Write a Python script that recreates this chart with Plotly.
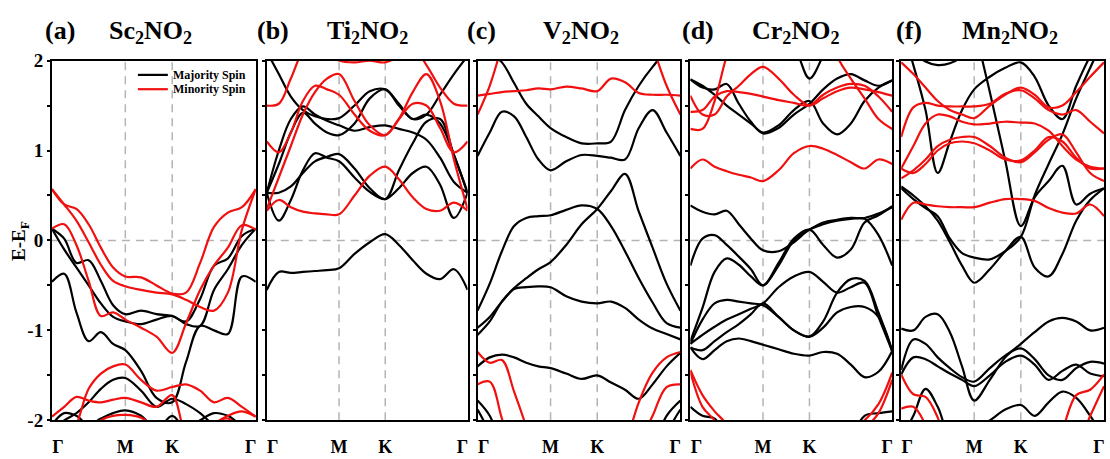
import plotly.graph_objects as go

# ---------------- data ----------------
K_PATH = [0.0, 0.06, 0.12, 0.18, 0.24, 0.30, 0.36, 0.437, 0.513, 0.59,
          0.658, 0.727, 0.795, 0.863, 0.932, 1.0]
K_SPECIAL = [0.36, 0.59]                 # M and K (dashed guides)
K_LABEL_POS = [0.03, 0.36, 0.59, 0.975]  # Γ labels sit just inside the frame
K_LABELS = ["Γ", "M", "K", "Γ"]
Y_TICKS = [-2, -1.5, -1, -0.5, 0, 0.5, 1, 1.5, 2]
Y_LABELS = ["-2", "", "-1", "", "0", "", "1", "", "2"]

PANEL_TAGS = ["(a)", "(b)", "(c)", "(d)", "(f)"]
PANEL_NAMES = ["Sc<sub>2</sub>NO<sub>2</sub>", "Ti<sub>2</sub>NO<sub>2</sub>",
               "V<sub>2</sub>NO<sub>2</sub>", "Cr<sub>2</sub>NO<sub>2</sub>",
               "Mn<sub>2</sub>NO<sub>2</sub>"]
SERIES_NAMES = ["Majority Spin", "Minority Spin"]

# (a) Sc2NO2
SC_UP_1 = [0.13, 0.02, -0.25, -0.22, -0.45, -0.72, -0.82, -0.78, -0.82, -0.84, -0.90, -0.65, -0.28, -0.20, 0.05, 0.13]
SC_UP_2 = [0.13, -0.10, -0.30, -0.50, -0.70, -0.85, -0.90, -0.93, -0.88, -0.84, -0.93, -0.95, -0.55, -0.32, -0.05, 0.13]
SC_UP_3 = [-0.46, -0.37, -0.80, -1.12, -1.02, -1.15, -1.22, -1.45, -1.75, -1.80, -1.35, -0.95, -1.00, -1.04, -0.40, -0.46]
SC_UP_4 = [-2.10, -2.00, -1.92, -1.80, -1.65, -1.55, -1.53, -1.67, -1.85, -1.76, -1.82, -1.92, -2.05, -2.10, -2.10, -2.10]
SC_UP_5 = [-2.05, -1.92, -1.95, -2.05, -1.98, -1.92, -1.89, -1.95, -2.10, -1.95, -2.10, -2.00, -1.92, -1.95, -2.05, -2.05]
SC_DN_1 = [0.57, 0.40, 0.35, 0.18, -0.08, -0.30, -0.40, -0.41, -0.50, -0.59, -0.58, -0.25, 0.15, 0.31, 0.37, 0.57]
SC_DN_2 = [0.57, 0.40, 0.22, -0.02, -0.27, -0.45, -0.51, -0.55, -0.58, -0.60, -0.66, -0.74, -0.78, -0.58, 0.12, 0.57]
SC_DN_3 = [0.13, 0.18, -0.05, -0.45, -0.84, -0.80, -0.88, -0.97, -1.07, -1.25, -0.92, -0.55, -0.28, -0.08, 0.17, 0.12]
SC_DN_4 = [-2.40, -2.30, -2.05, -1.65, -1.48, -1.40, -1.38, -1.55, -1.67, -1.63, -1.60, -1.67, -1.80, -1.75, -1.85, -1.96]
SC_DN_5 = [-1.96, -1.85, -1.74, -1.78, -1.80, -1.77, -1.75, -1.80, -1.85, -1.72, -2.15, -2.25, -2.05, -1.95, -1.90, -1.96]
SC_DN_6 = [-2.50, -2.40, -2.30, -2.15, -2.00, -1.95, -1.94, -1.97, -2.10, -2.30, -2.40, -2.30, -2.05, -1.98, -2.10, -2.30]

# (b) Ti2NO2
TI_UP_1 = [-0.55, -0.35, -0.36, -0.35, -0.34, -0.33, -0.31, -0.15, -0.02, 0.07, -0.05, -0.22, -0.37, -0.43, -0.32, -0.55]
TI_UP_2 = [0.53, 0.22, 0.45, 0.78, 0.97, 0.92, 0.88, 0.70, 0.54, 0.46, 0.58, 0.75, 0.82, 0.62, 0.25, 0.53]
TI_UP_3 = [0.53, 0.53, 0.60, 0.75, 0.88, 0.93, 0.96, 0.80, 0.58, 0.46, 0.78, 1.08, 1.32, 1.35, 0.95, 0.53]
TI_UP_4 = [0.53, 1.00, 1.35, 1.49, 1.40, 1.33, 1.28, 1.22, 1.26, 1.28, 1.24, 1.20, 1.12, 0.92, 0.65, 0.53]
TI_UP_5 = [0.53, 0.85, 1.20, 1.42, 1.30, 1.20, 1.17, 1.30, 1.58, 1.68, 1.50, 1.35, 1.40, 1.62, 1.85, 2.05]
TI_UP_6 = [2.10, 1.85, 1.60, 1.45, 1.38, 1.35, 1.36, 1.50, 1.66, 1.68, 1.52, 1.35, 1.40, 1.30, 0.95, 0.53]
TI_DN_1 = [0.33, 0.45, 0.37, 0.32, 0.30, 0.29, 0.29, 0.50, 0.72, 0.82, 0.68, 0.48, 0.35, 0.33, 0.42, 0.33]
TI_DN_2 = [1.10, 0.98, 1.20, 1.55, 1.72, 1.68, 1.62, 1.40, 1.22, 1.17, 1.35, 1.52, 1.50, 1.25, 0.98, 1.10]
TI_DN_3 = [1.50, 1.52, 1.80, 2.10, 2.20, 2.10, 2.00, 1.98, 2.00, 1.98, 2.05, 2.15, 1.95, 1.70, 1.52, 1.50]
TI_DN_4 = [0.35, 0.70, 1.05, 1.40, 1.65, 1.80, 1.85, 1.55, 1.28, 1.17, 1.35, 1.65, 1.85, 1.55, 0.90, 0.35]

# (c) V2NO2
V_UP_1 = [2.15, 2.08, 1.98, 1.75, 1.52, 1.38, 1.25, 1.15, 1.08, 1.08, 1.10, 1.45, 1.72, 1.93, 2.10, 2.15]
V_UP_2 = [0.94, 1.20, 1.43, 1.38, 1.15, 0.90, 0.78, 0.88, 0.95, 0.94, 0.92, 0.90, 1.25, 1.45, 1.20, 0.94]
V_UP_3 = [-0.78, -0.48, -0.12, 0.16, 0.25, 0.27, 0.28, 0.34, 0.39, 0.35, 0.16, -0.12, -0.42, -0.69, -0.92, -0.97]
V_UP_4 = [-0.97, -0.85, -0.68, -0.53, -0.42, -0.32, -0.24, -0.05, 0.18, 0.35, 0.55, 0.74, 0.32, -0.08, -0.48, -0.78]
V_UP_5 = [-1.05, -0.90, -0.68, -0.54, -0.52, -0.51, -0.52, -0.62, -0.68, -0.70, -0.68, -0.75, -0.88, -0.98, -1.04, -1.10]
V_UP_6 = [-1.40, -1.30, -1.27, -1.30, -1.36, -1.40, -1.42, -1.48, -1.54, -1.50, -1.58, -1.66, -1.76, -1.60, -1.40, -1.25]
V_UP_7 = [-1.78, -1.95, -2.30, -2.60, -2.80, -2.90, -3.00, -3.00, -3.00, -3.00, -2.90, -2.80, -2.60, -2.30, -1.95, -1.78]
V_UP_8 = [-1.88, -2.15, -2.60, -2.90, -3.00, -3.00, -3.00, -3.00, -3.00, -3.00, -3.00, -3.00, -2.90, -2.60, -2.15, -1.88]
V_DN_1 = [1.61, 1.63, 1.65, 1.66, 1.67, 1.69, 1.68, 1.71, 1.69, 1.66, 1.80, 1.76, 1.64, 1.62, 1.62, 1.61]
V_DN_2 = [1.40, 1.72, 2.15, 2.50, 2.70, 2.80, 2.80, 2.80, 2.80, 2.80, 2.80, 2.70, 2.50, 2.15, 1.72, 1.40]
V_DN_3 = [-1.24, -1.36, -1.33, -1.68, -2.07, -2.50, -2.80, -3.00, -3.00, -3.00, -2.80, -2.30, -1.80, -1.47, -1.30, -1.24]
V_DN_4 = [-1.60, -1.57, -1.98, -2.40, -2.80, -3.00, -3.00, -3.00, -3.00, -3.00, -3.00, -2.80, -2.30, -1.95, -1.63, -1.60]

# (d) Cr2NO2
CR_UP_1 = [1.79, 1.72, 1.62, 1.50, 1.40, 1.30, 1.20, 1.28, 1.45, 1.55, 1.30, 1.18, 1.30, 1.55, 1.70, 1.78]
CR_UP_2 = [1.79, 1.70, 1.68, 1.74, 1.52, 1.32, 1.19, 1.25, 1.40, 1.52, 1.68, 1.80, 1.85, 1.78, 1.72, 1.78]
CR_UP_3 = [2.50, 2.50, 2.50, 2.50, 2.50, 2.40, 2.30, 2.25, 2.15, 1.80, 2.05, 2.30, 2.50, 2.50, 2.50, 2.50]
CR_UP_4 = [0.39, 0.32, 0.29, 0.33, 0.18, 0.02, -0.11, -0.12, -0.02, 0.12, 0.18, 0.22, 0.24, 0.24, 0.06, -0.28]
CR_UP_5 = [-0.28, 0.02, 0.06, -0.05, -0.18, -0.32, -0.50, -0.25, 0.02, 0.12, -0.05, -0.19, -0.10, 0.20, 0.28, 0.38]
CR_UP_6 = [-1.12, -0.75, -0.35, -0.20, -0.27, -0.40, -0.50, -0.28, 0.00, 0.12, 0.20, 0.23, 0.25, 0.25, 0.30, 0.37]
CR_UP_7 = [-1.15, -0.88, -0.70, -0.66, -0.68, -0.70, -0.72, -0.85, -1.00, -1.07, -0.97, -0.80, -0.74, -0.74, -0.85, -1.23]
CR_UP_8 = [-1.15, -1.05, -0.96, -0.88, -0.82, -0.76, -0.70, -0.52, -0.40, -0.35, -0.46, -0.58, -0.52, -0.47, -0.85, -1.23]
CR_UP_9 = [-1.19, -1.22, -1.12, -1.02, -0.93, -0.82, -0.70, -0.85, -1.00, -1.07, -0.90, -0.58, -0.43, -0.45, -0.80, -1.23]
CR_UP_10 = [-1.19, -1.32, -1.22, -1.12, -1.09, -1.12, -1.16, -1.21, -1.26, -1.28, -1.24, -1.26, -1.38, -1.52, -1.46, -1.23]
CR_UP_11 = [-1.85, -1.95, -1.98, -2.20, -2.50, -2.80, -3.00, -3.00, -3.00, -3.00, -2.80, -2.50, -2.20, -1.95, -1.92, -1.90]
CR_DN_1 = [0.80, 0.90, 0.82, 0.77, 0.73, 0.70, 0.66, 0.78, 0.97, 1.05, 1.02, 0.95, 0.87, 0.80, 0.90, 0.85]
CR_DN_2 = [1.43, 1.45, 1.60, 1.66, 1.65, 1.63, 1.60, 1.56, 1.53, 1.50, 1.62, 1.70, 1.74, 1.72, 1.60, 1.43]
CR_DN_3 = [1.61, 1.40, 1.40, 1.60, 1.72, 1.85, 1.93, 1.80, 1.62, 1.50, 1.58, 1.66, 1.70, 1.68, 1.65, 1.61]
CR_DN_4 = [1.24, 1.24, 1.55, 2.05, 2.40, 2.60, 2.70, 2.70, 2.70, 2.70, 2.60, 2.05, 1.80, 1.58, 1.35, 1.24]
CR_DN_5 = [-1.44, -1.72, -1.90, -2.05, -2.40, -2.80, -3.00, -3.00, -3.00, -3.00, -2.80, -2.40, -2.10, -2.00, -1.82, -1.47]
CR_DN_6 = [-1.46, -1.85, -2.00, -2.20, -2.60, -3.00, -3.00, -3.00, -3.00, -3.00, -3.00, -2.60, -2.25, -2.10, -1.92, -1.55]

# (f) Mn2NO2
MN_UP_1 = [2.60, 2.10, 1.99, 1.95, 1.97, 2.05, 2.40, 2.60, 2.60, 2.60, 2.60, 2.60, 2.60, 2.60, 2.60, 2.60]
MN_UP_2 = [2.40, 1.95, 1.45, 0.75, 1.10, 1.45, 1.68, 1.82, 1.92, 1.98, 1.82, 1.50, 1.35, 1.72, 2.05, 2.30]
MN_UP_3 = [4.50, 4.30, 4.10, 3.90, 3.70, 3.47, 2.43, 1.65, 0.89, 0.16, 0.48, 0.66, 0.83, 0.40, 0.52, 0.58]
MN_UP_4 = [0.58, 0.46, 0.36, 0.27, 0.02, -0.14, -0.19, -0.21, -0.12, 0.04, 0.50, 0.85, 1.18, 1.58, 1.92, 2.25]
MN_UP_5 = [0.60, 0.50, 0.38, 0.22, -0.02, -0.28, -0.47, -0.32, -0.12, 0.04, -0.30, -0.40, -0.15, 0.22, 0.45, 0.58]
MN_UP_6 = [-0.98, -1.00, -0.85, -0.82, -1.02, -1.40, -1.78, -1.55, -1.30, -1.15, -1.02, -0.90, -0.86, -0.90, -1.00, -0.97]
MN_UP_7 = [-1.44, -1.10, -1.15, -1.30, -1.42, -1.52, -1.57, -1.42, -1.28, -1.20, -1.32, -1.50, -1.55, -1.42, -1.35, -1.37]
MN_UP_8 = [-1.49, -1.30, -1.32, -1.40, -1.48, -1.55, -1.62, -1.50, -1.35, -1.28, -1.38, -1.55, -1.45, -1.38, -1.48, -1.51]
MN_UP_9 = [-2.20, -1.95, -1.65, -1.85, -2.20, -2.30, -2.10, -2.00, -1.88, -1.83, -1.95, -1.80, -1.68, -1.75, -1.95, -2.20]
MN_DN_1 = [1.98, 1.85, 1.70, 1.55, 1.45, 1.40, 1.36, 1.50, 1.62, 1.70, 1.62, 1.48, 1.50, 1.65, 1.82, 1.98]
MN_DN_2 = [1.15, 1.48, 1.53, 1.50, 1.49, 1.49, 1.49, 1.52, 1.63, 1.67, 1.58, 1.45, 1.40, 1.45, 1.32, 1.19]
MN_DN_3 = [0.80, 1.05, 1.30, 1.40, 1.38, 1.32, 1.29, 1.30, 1.32, 1.31, 1.30, 1.22, 1.05, 0.90, 0.82, 0.80]
MN_DN_4 = [0.69, 0.78, 0.90, 1.05, 1.12, 1.15, 1.15, 1.05, 0.92, 0.87, 0.98, 1.12, 1.18, 0.98, 0.75, 0.66]
MN_DN_5 = [0.80, 0.75, 0.85, 1.00, 1.08, 1.10, 1.08, 1.00, 0.90, 0.89, 1.00, 1.15, 1.10, 0.92, 0.80, 0.80]
MN_DN_6 = [0.23, 0.42, 0.40, 0.38, 0.37, 0.37, 0.37, 0.42, 0.46, 0.46, 0.44, 0.36, 0.31, 0.30, 0.40, 0.27]
MN_DN_7 = [-1.49, -1.71, -1.74, -1.97, -2.40, -2.80, -3.00, -3.00, -3.00, -3.00, -2.80, -2.40, -2.10, -1.72, -1.66, -1.49]
MN_DN_8 = [-1.87, -1.85, -2.05, -2.40, -2.80, -3.00, -3.00, -3.00, -3.00, -3.00, -3.00, -2.60, -2.30, -2.30, -1.95, -1.62]

SC_UP = [SC_UP_1, SC_UP_2, SC_UP_3, SC_UP_4, SC_UP_5]
SC_DN = [SC_DN_1, SC_DN_2, SC_DN_3, SC_DN_4, SC_DN_5, SC_DN_6]
TI_UP = [TI_UP_1, TI_UP_2, TI_UP_3, TI_UP_4, TI_UP_5, TI_UP_6]
TI_DN = [TI_DN_1, TI_DN_2, TI_DN_3, TI_DN_4]
V_UP = [V_UP_1, V_UP_2, V_UP_3, V_UP_4, V_UP_5, V_UP_6, V_UP_7, V_UP_8]
V_DN = [V_DN_1, V_DN_2, V_DN_3, V_DN_4]
CR_UP = [CR_UP_1, CR_UP_2, CR_UP_3, CR_UP_4, CR_UP_5, CR_UP_6, CR_UP_7, CR_UP_8,
         CR_UP_9, CR_UP_10, CR_UP_11]
CR_DN = [CR_DN_1, CR_DN_2, CR_DN_3, CR_DN_4, CR_DN_5, CR_DN_6]
MN_UP = [MN_UP_1, MN_UP_2, MN_UP_3, MN_UP_4, MN_UP_5, MN_UP_6, MN_UP_7, MN_UP_8, MN_UP_9]
MN_DN = [MN_DN_1, MN_DN_2, MN_DN_3, MN_DN_4, MN_DN_5, MN_DN_6, MN_DN_7, MN_DN_8]

PANELS_UP = [SC_UP, TI_UP, V_UP, CR_UP, MN_UP]
PANELS_DN = [SC_DN, TI_DN, V_DN, CR_DN, MN_DN]

# ---------------- style / layout ----------------
W, H = 1110, 459
FONT = "Liberation Serif"
BLACK = "#000000"
RED = "#f01010"
GRID = "#b4b4b4"
DASH = "8px,6px"
PANEL_PX = [(52, 256), (267, 468), (478, 681), (691, 893), (902, 1105)]
TOP_PX, BOT_PX = 53, 430
TAG_X_PX = [60, 273, 482, 699, 910]
NAME_X_PX = [151, 368, 582, 797, 1011]
TITLE_Y_PX = 21
LEG_X0, LEG_X1, LEG_TX = 138, 168, 171
LEG_Y = [68, 83]
LEG_COLORS = [BLACK, RED]

fig = go.Figure()

for i in range(5):
    xa = "x" if i == 0 else f"x{i+1}"
    ya = "y" if i == 0 else f"y{i+1}"
    for band in PANELS_UP[i]:
        fig.add_trace(go.Scatter(
            x=K_PATH, y=band, mode="lines", xaxis=xa, yaxis=ya,
            line=dict(color=BLACK, width=2.2, shape="spline", smoothing=1.0),
            name=SERIES_NAMES[0], showlegend=False, hoverinfo="skip"))
    for band in PANELS_DN[i]:
        fig.add_trace(go.Scatter(
            x=K_PATH, y=band, mode="lines", xaxis=xa, yaxis=ya,
            line=dict(color=RED, width=2.2, shape="spline", smoothing=1.0),
            name=SERIES_NAMES[1], showlegend=False, hoverinfo="skip"))

layout = dict(
    width=W, height=H, margin=dict(l=0, r=0, t=0, b=0),
    paper_bgcolor="white", plot_bgcolor="white", showlegend=False,
)
y0 = 1 - BOT_PX / H
y1 = 1 - TOP_PX / H
shapes = []
annotations = []
for i, (l, r) in enumerate(PANEL_PX):
    xk = "xaxis" if i == 0 else f"xaxis{i+1}"
    yk = "yaxis" if i == 0 else f"yaxis{i+1}"
    xa = "x" if i == 0 else f"x{i+1}"
    ya = "y" if i == 0 else f"y{i+1}"
    layout[xk] = dict(
        domain=[l / W, r / W], anchor=ya, range=[0, 1],
        tickmode="array", tickvals=K_LABEL_POS, ticktext=K_LABELS,
        ticks="", ticklabelstandoff=9,
        tickfont=dict(family=FONT, size=18, color="black", weight="bold"),
        showgrid=False, showline=True, linecolor="black", linewidth=2,
        mirror=True, zeroline=False, fixedrange=True)
    layout[yk] = dict(
        domain=[y0, y1], anchor=xa, range=[-2, 2],
        tickmode="array", tickvals=Y_TICKS, ticktext=Y_LABELS,
        ticks="outside", ticklen=3, tickwidth=1.5, tickcolor="black",
        showticklabels=(i == 0),
        tickfont=dict(family=FONT, size=19, color="black", weight="bold"),
        showgrid=False, showline=True, linecolor="black", linewidth=2,
        mirror=True, zeroline=False, fixedrange=True)
    # dashed guides: Fermi level and the M, K points
    shapes.append(dict(type="line", xref=f"{xa} domain", yref=ya,
                       x0=0, x1=1, y0=0, y1=0, layer="below",
                       line=dict(color=GRID, width=1.5, dash=DASH)))
    for kx in K_SPECIAL:
        shapes.append(dict(type="line", xref=xa, yref=f"{ya} domain",
                           x0=kx, x1=kx, y0=0, y1=1, layer="below",
                           line=dict(color=GRID, width=1.5, dash=DASH)))
    annotations.append(dict(text=PANEL_TAGS[i], x=TAG_X_PX[i] / W, y=1 - TITLE_Y_PX / H,
                            xref="paper", yref="paper", showarrow=False,
                            xanchor="center", yanchor="middle",
                            font=dict(family=FONT, size=26, color="black", weight="bold")))
    annotations.append(dict(text=PANEL_NAMES[i], x=NAME_X_PX[i] / W, y=1 - (TITLE_Y_PX + 2) / H,
                            xref="paper", yref="paper", showarrow=False,
                            xanchor="center", yanchor="middle",
                            font=dict(family=FONT, size=26, color="black", weight="bold")))

# legend (drawn in panel a, top right)
for k in range(2):
    shapes.append(dict(type="line", xref="paper", yref="paper",
                       x0=LEG_X0 / W, x1=LEG_X1 / W,
                       y0=1 - LEG_Y[k] / H, y1=1 - LEG_Y[k] / H,
                       line=dict(color=LEG_COLORS[k], width=2.2)))
    annotations.append(dict(text=SERIES_NAMES[k], x=LEG_TX / W, y=1 - LEG_Y[k] / H,
                            xref="paper", yref="paper", showarrow=False,
                            xanchor="left", yanchor="middle",
                            font=dict(family=FONT, size=12, color="black", weight="bold")))

annotations.append(dict(text="E-E<sub>F</sub>", x=20 / W, y=1 - 242 / H,
                        xref="paper", yref="paper", showarrow=False, textangle=-90,
                        xanchor="center", yanchor="middle",
                        font=dict(family=FONT, size=19, color="black", weight="bold")))
layout["shapes"] = shapes
layout["annotations"] = annotations
fig.update_layout(**layout)

fig.write_html("out.html")
